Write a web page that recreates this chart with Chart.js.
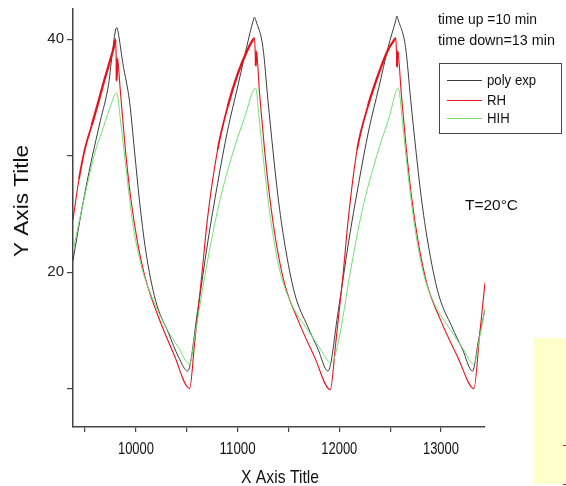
<!DOCTYPE html>
<html>
<head>
<meta charset="utf-8">
<script src="https://cdn.jsdelivr.net/npm/chart.js@4.4.1/dist/chart.umd.min.js"></script>
<style>
  html, body { margin: 0; padding: 0; background: #fff; }
  #wrap { width: 566px; height: 486px; }
</style>
</head>
<body>
<div id="wrap"><canvas id="c" width="566" height="486"></canvas></div>
<script>
// axis ranges and ticks
const xMin = 9381, xMax = 13433;
const yMin = 6.7, yMax = 42.6;
const xTicks = [9500, 10000, 10500, 11000, 11500, 12000, 12500, 13000];
const xLabels = [10000, 11000, 12000, 13000];
const yTicks = [10, 20, 30, 40];
const yLabels = [20, 40];

const seriesNames = ['poly exp', 'RH', 'HIH'];

// poly exp (black)
const polyX = [9381, 9470, 9560, 9650, 9732, 9770, 9800, 9811, 9825, 9870, 9938, 9986, 10034, 10097, 10192, 10319, 10420, 10508,
  10607, 10705, 10803, 10902, 11000, 11088, 11150, 11167, 11180, 11249, 11298, 11347, 11397, 11462, 11560, 11691, 11790, 11888,
  11990, 12090, 12190, 12290, 12390, 12480, 12555, 12567, 12578, 12652, 12702, 12753, 12805, 12872, 12973, 13108, 13210, 13310, 13370, 13433];
const polyY = [21.0, 25.5, 29.5, 33.0, 36.2, 39.0, 40.8, 41.0, 40.6, 38.0, 34.6, 30.4, 26.2, 21.8, 17.6, 14.8, 12.7, 11.5,
  16.7, 22.5, 27.6, 32.2, 35.9, 39.3, 41.5, 41.9, 41.6, 39.3, 34.8, 30.5, 26.5, 22.5, 18.2, 15.3, 13.4, 11.5,
  16.7, 22.5, 27.6, 32.2, 35.9, 39.3, 41.6, 42.0, 41.7, 39.3, 34.8, 30.5, 26.5, 22.5, 18.2, 15.3, 13.4, 11.5, 14.2, 16.8];

// RH (red)
const rhX = [9381, 9440, 9496, 9565, 9630, 9683, 9740, 9791, 9801, 9810, 9816, 9849, 9900, 9950, 10015, 10095, 10215, 10375, 10528,
  10577, 10646, 10705, 10803, 10902, 11000, 11098, 11140, 11167, 11178, 11184, 11216, 11265, 11315, 11380, 11462, 11593, 11757, 11911,
  11965, 12035, 12090, 12175, 12280, 12385, 12480, 12530, 12557, 12567, 12574, 12610, 12660, 12710, 12778, 12862, 12995, 13165, 13324, 13380, 13433];
const rhY = [24.5, 28.0, 30.5, 32.6, 34.6, 36.3, 38.0, 39.6, 40.0, 36.4, 38.4, 35.3, 30.2, 26.3, 22.6, 19.4, 16.3, 12.9, 10.0,
  13.9, 19.6, 24.7, 30.5, 34.2, 37.0, 39.1, 39.8, 40.1, 37.7, 39.0, 35.3, 30.5, 26.5, 22.5, 19.0, 15.9, 12.7, 9.9,
  13.9, 19.6, 24.7, 30.5, 34.2, 37.0, 39.1, 39.8, 40.1, 37.6, 39.0, 35.3, 30.5, 26.5, 22.5, 19.0, 15.9, 12.7, 10.0, 14.6, 19.1];

// HIH (green)
const hihX = [9381, 9490, 9604, 9663, 9740, 9811, 9851, 9895, 9962, 10045, 10160, 10300, 10420, 10528,
  10577, 10676, 10803, 10941, 11069, 11177, 11216, 11265, 11331, 11413, 11528, 11691, 11800, 11921,
  12000, 12100, 12225, 12365, 12490, 12580, 12622, 12671, 12737, 12819, 12934, 13097, 13210, 13324, 13380, 13433];
const hihY = [21.8, 26.3, 30.5, 32.0, 34.0, 35.4, 32.8, 29.5, 24.6, 20.8, 17.8, 15.2, 13.5, 12.1,
  14.4, 19.6, 25.3, 29.9, 33.3, 35.8, 32.8, 28.8, 24.2, 20.2, 17.3, 15.0, 13.6, 12.2,
  14.4, 19.6, 25.3, 29.9, 33.3, 35.8, 32.8, 28.8, 24.2, 20.2, 17.3, 15.0, 13.5, 12.1, 14.4, 16.9];

const colors = ['#3c3c3c', '#e8101a', '#74de74'];
const FONT = '"Liberation Sans", Arial, sans-serif';

function pts(xs, ys) {
  return xs.map((x, i) => ({ x: x, y: ys[i] }));
}

function fitText(ctx, s, x, y, size, w, align) {
  ctx.save();
  ctx.font = size + 'px ' + FONT;
  const m = ctx.measureText(s).width;
  const sx = w ? w / m : 1;
  ctx.translate(x, y);
  ctx.scale(sx, 1);
  ctx.textAlign = align || 'left';
  ctx.textBaseline = 'alphabetic';
  ctx.fillStyle = '#111';
  ctx.fillText(s, 0, 0);
  ctx.restore();
}

// the RH trace is noisy on the upper part of each rise: draw it thicker there
function rhWidth(c) {
  const a = c.p0.parsed.y, b = c.p1.parsed.y;
  if (b > a && a > 32) return 2.3;
  if (b > a && a > 26) return 1.8;
  return 1.1;
}

const deco = {
  id: 'deco',
  afterDraw(chart) {
    const ctx = chart.ctx;
    // yellow patch at the lower right
    ctx.save();
    ctx.fillStyle = '#ffffcc';
    ctx.fillRect(533, 338, 33, 146);
    ctx.strokeStyle = '#e8101a';
    ctx.lineWidth = 1;
    ctx.beginPath();
    ctx.moveTo(563, 445.5); ctx.lineTo(566, 445.5);
    ctx.moveTo(563, 484.5); ctx.lineTo(566, 484.5);
    ctx.stroke();
    ctx.restore();

    // x tick labels, narrow like the original
    const xs = chart.scales.x;
    xLabels.forEach(v => {
      fitText(ctx, String(v), xs.getPixelForValue(v), 454, 16, 36, 'center');
    });

    // notes
    fitText(ctx, 'time up =10 min', 438, 24, 15, 99);
    fitText(ctx, 'time down=13 min', 438, 45, 15, 117);
    fitText(ctx, 'T=20°C', 465, 210, 15, 53);

    // legend box
    ctx.save();
    ctx.strokeStyle = '#444';
    ctx.lineWidth = 1;
    ctx.strokeRect(439.5, 63.5, 122, 70);
    const ly = [80, 100, 118];
    seriesNames.forEach((n, i) => {
      ctx.strokeStyle = colors[i];
      ctx.beginPath();
      ctx.moveTo(447, ly[i] + 0.5);
      ctx.lineTo(482, ly[i] + 0.5);
      ctx.stroke();
    });
    ctx.restore();
    seriesNames.forEach((n, i) => {
      ctx.save();
      ctx.font = '15px ' + FONT;
      const w = ctx.measureText(n).width * 0.88;
      ctx.restore();
      fitText(ctx, n, 487, ly[i] + 5, 15, w);
    });

    // axis titles
    fitText(ctx, 'X Axis Title', 280, 483, 19, 78, 'center');
    ctx.save();
    ctx.translate(28, 201);
    ctx.rotate(-Math.PI / 2);
    fitText(ctx, 'Y Axis Title', 0, 0, 20, 112, 'center');
    ctx.restore();
  }
};

new Chart(document.getElementById('c'), {
  type: 'line',
  data: {
    datasets: [
      { label: seriesNames[0], data: pts(polyX, polyY), borderColor: colors[0], borderWidth: 1, order: 2 },
      { label: seriesNames[1], data: pts(rhX, rhY), borderColor: colors[1], borderWidth: 1.1, order: 1,
        segment: { borderWidth: rhWidth } },
      { label: seriesNames[2], data: pts(hihX, hihY), borderColor: colors[2], borderWidth: 1, order: 0 }
    ]
  },
  options: {
    responsive: false,
    devicePixelRatio: 1,
    animation: false,
    layout: { padding: { left: 0, top: 9, right: 81, bottom: 0 } },
    elements: { point: { radius: 0 }, line: { cubicInterpolationMode: 'monotone', fill: false } },
    plugins: { legend: { display: false }, tooltip: { enabled: false } },
    scales: {
      x: {
        type: 'linear',
        min: xMin, max: xMax,
        afterBuildTicks: s => { s.ticks = xTicks.map(v => ({ value: v })); },
        afterFit: s => { s.height = 59; s.paddingLeft = 0; s.paddingRight = 0; },
        ticks: { autoSkip: false, maxRotation: 0, callback: () => '' },
        grid: { drawOnChartArea: false, drawTicks: true, tickLength: 5, color: '#444', lineWidth: 1.2 },
        border: { display: true, color: '#444', width: 1.5 }
      },
      y: {
        type: 'linear',
        min: yMin, max: yMax,
        afterBuildTicks: s => { s.ticks = yTicks.map(v => ({ value: v })); },
        afterFit: s => { s.width = 73; s.paddingTop = 0; s.paddingBottom = 0; },
        ticks: {
          padding: 3, color: '#222',
          font: { family: FONT, size: 15 },
          callback: v => yLabels.includes(v) ? String(v) : ''
        },
        grid: { drawOnChartArea: false, drawTicks: true, tickLength: 6, color: '#444', lineWidth: 1.2 },
        border: { display: true, color: '#444', width: 1.5 }
      }
    }
  },
  plugins: [deco]
});
</script>
</body>
</html>
